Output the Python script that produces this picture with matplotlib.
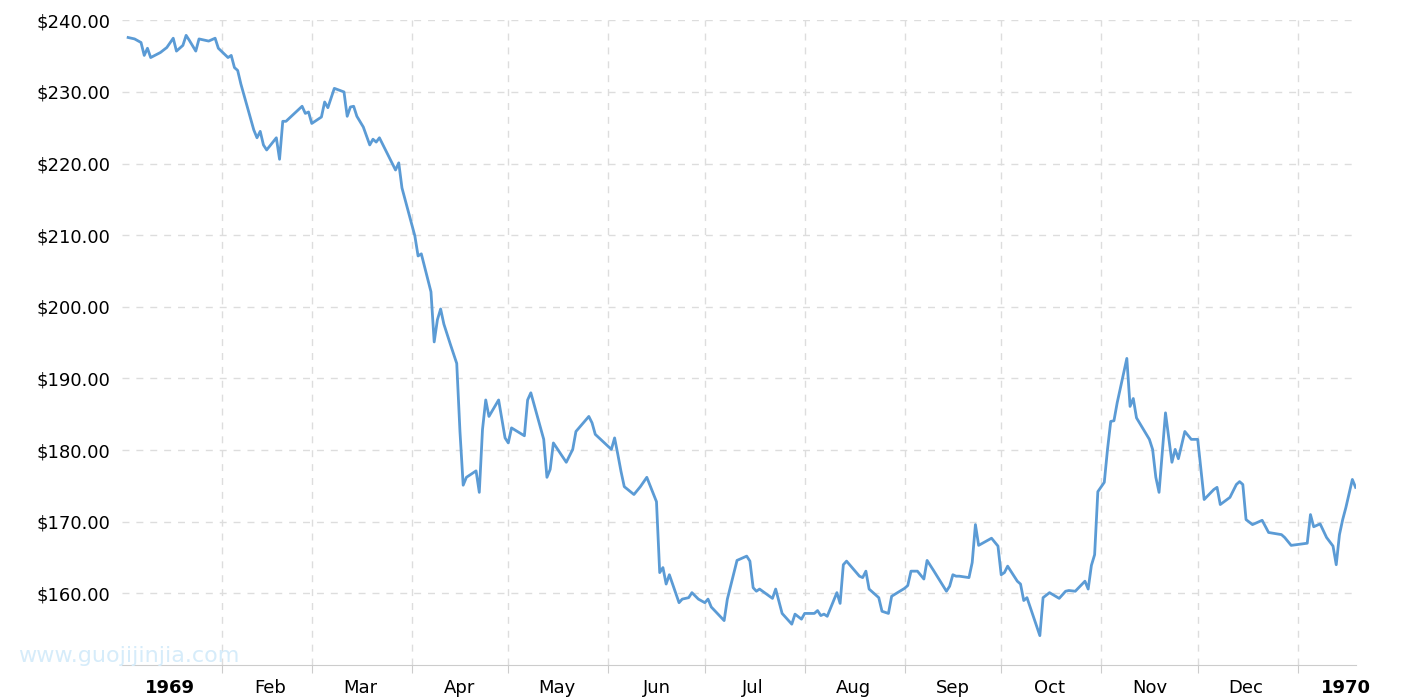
import matplotlib.pyplot as plt

# day of year 1969 (0 = Jan 1) and gold price
days = [2, 4, 6, 7, 8, 9, 12, 14, 16, 17, 19, 20, 21, 23, 24, 27, 29, 30, 33, 34, 35, 36, 37,
        41, 42, 43, 44, 45, 48, 49, 50, 51, 56, 57, 58, 59, 62, 63, 64, 66, 69, 70, 71, 72, 73,
        75, 77, 78, 79, 80, 85, 86, 87, 91, 92, 93, 96, 97, 98, 99, 100, 102, 104, 105, 106, 107,
        110, 111, 112, 113, 114, 117, 119, 120, 121, 125, 126, 127, 131, 132, 133, 134, 138, 140,
        141, 145, 146, 147, 152, 153, 154, 155, 156, 159, 161, 163, 166, 167, 168, 169, 170, 173,
        174, 176, 177, 179, 181, 182, 183, 187, 188, 189, 191, 194, 195, 196, 197, 198, 202, 203,
        205, 208, 209, 211, 212, 215, 216, 217, 218, 219, 222, 223, 224, 225, 229, 230, 231, 232,
        235, 236, 238, 239, 243, 244, 245, 247, 249, 250, 252, 256, 257, 258, 259, 260, 263, 264,
        265, 266, 270, 272, 273, 274, 275, 278, 279, 280, 281, 285, 286, 288, 291, 293, 294, 296,
        299, 300, 301, 302, 303, 305, 306, 307, 308, 309, 312, 313, 314, 315, 319, 320, 321, 322,
        324, 326, 327, 328, 330, 332, 334, 336, 339, 340, 341, 344, 346, 347, 348, 349, 351, 354,
        356, 360, 361, 363, 368, 369, 370, 372, 374, 376, 377, 378, 379, 380, 382, 383]
prices = [237.6, 237.4, 236.9, 235.1, 236.1, 234.8, 235.5, 236.2, 237.5, 235.7, 236.5, 237.9,
          237.2, 235.7, 237.4, 237.1, 237.5, 236.1, 234.8, 235.1, 233.4, 233.0, 231.1,
          224.7, 223.6, 224.5, 222.6, 221.9, 223.6, 220.6, 225.9, 225.9, 228.0, 227.0, 227.2,
          225.6, 226.5, 228.6, 227.8, 230.5, 230.0, 226.6, 227.9, 228.0, 226.6,
          225.1, 222.6, 223.4, 223.0, 223.6, 219.1, 220.1, 216.6, 209.9, 207.1, 207.4, 202.1,
          195.1, 198.2, 199.7, 197.6, 194.8, 192.1, 182.6, 175.1, 176.2,
          177.1, 174.1, 182.9, 187.0, 184.7, 187.0, 181.7, 181.0, 183.1, 182.0, 187.0, 188.0,
          181.5, 176.2, 177.3, 181.0, 178.3, 180.1,
          182.6, 184.7, 183.8, 182.2, 180.1, 181.7, 179.4, 177.0, 174.9, 173.8, 174.9, 176.2,
          172.8, 162.9, 163.6, 161.3, 162.6, 158.7,
          159.2, 159.4, 160.1, 159.2, 158.7, 159.2, 158.1, 156.2, 159.2, 161.0, 164.6, 165.2,
          164.5, 160.8, 160.3, 160.6, 159.3, 160.6,
          157.2, 155.7, 157.1, 156.4, 157.2, 157.2, 157.6, 156.9, 157.1, 156.8, 160.1, 158.6,
          164.0, 164.5, 162.4, 162.2, 163.1, 160.6,
          159.4, 157.5, 157.2, 159.6, 160.7, 161.1, 163.1, 163.1, 162.0, 164.6, 163.2, 160.3,
          161.0, 162.6, 162.4, 162.4, 162.2, 164.3,
          169.6, 166.7, 167.7, 166.6, 162.6, 162.9, 163.8, 161.7, 161.3, 159.0, 159.4, 154.1,
          159.4, 160.1, 159.3, 160.3, 160.4, 160.3,
          161.7, 160.6, 163.9, 165.4, 174.2, 175.5, 180.1, 184.0, 184.1, 186.6, 192.8, 186.1,
          187.2, 184.5, 181.5, 180.1, 176.2, 174.1,
          185.2, 178.3, 180.1, 178.8, 182.6, 181.5, 181.5, 173.1, 174.5, 174.8, 172.4, 173.4,
          175.2, 175.6, 175.2, 170.3, 169.6, 170.2,
          168.5, 168.2, 167.8, 166.7, 167.0, 171.0, 169.3, 169.7, 167.8, 166.6, 164.0, 168.2,
          170.3, 172.0, 175.9, 174.8]

month_starts = [0, 31, 59, 90, 120, 151, 181, 212, 243, 273, 304, 334, 365]
month_labels = ['1969', 'Feb', 'Mar', 'Apr', 'May', 'Jun', 'Jul', 'Aug', 'Sep', 'Oct',
                'Nov', 'Dec', '1970']
y_ticks = list(range(160, 241, 10))

fig = plt.figure(figsize=(14.15, 7.0), dpi=100)
ax = fig.add_axes([0.086, 0.05, 0.872, 0.921])

ax.plot(days, prices, color='#5b9bd5', linewidth=2)

ax.set_xlim(0, 383)
ax.set_ylim(150, 240)

ax.set_xticks(month_starts[1:], minor=False)
ax.set_xticklabels([])
ax.tick_params(axis='x', length=6, color='#cccccc')
ax.set_xticks([m + 15 for m in month_starts], minor=True)
ax.set_xticklabels(month_labels, minor=True, fontsize=13)
ax.tick_params(axis='x', which='minor', length=0, pad=10)
for lbl in ax.get_xticklabels(minor=True):
    if lbl.get_text() in ('1969', '1970'):
        lbl.set_fontweight('bold')

ax.set_yticks(y_ticks)
ax.set_yticklabels(['$%.2f' % v for v in y_ticks], fontsize=13)
ax.tick_params(axis='y', length=0, pad=8)

ax.grid(True, which='major', color='#dddddd', linestyle=(0, (5, 5)), linewidth=1)
for s in ['top', 'right', 'left']:
    ax.spines[s].set_visible(False)
ax.spines['bottom'].set_color('#cccccc')

fig.text(0.013, 0.055, 'www.guojijinjia.com', color='#d6ecfa', fontsize=16)

fig.savefig('out.png')
